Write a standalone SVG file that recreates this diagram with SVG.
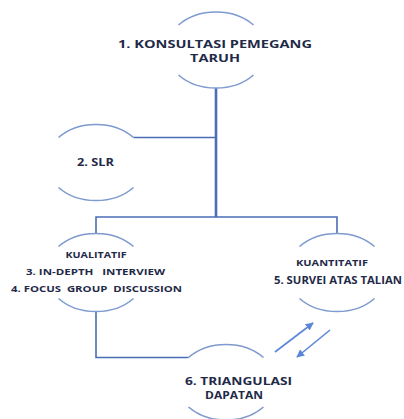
<svg xmlns="http://www.w3.org/2000/svg" width="404" height="419" viewBox="0 0 404 419">
  <style>
    .arc { fill: none; stroke: #7E9ACF; stroke-width: 1.6; }
    .conn { fill: none; stroke: #4A6DB5; stroke-width: 1.6; }
    .trunk { fill: none; stroke: #4A6DB5; stroke-width: 2.6; }
    .arr { fill: none; stroke: #5B86D6; stroke-width: 1.6; }
    text { font-family: "Open Sans", "Liberation Sans", Arial, sans-serif; font-weight: bold; fill: #1F2A48; text-anchor: middle; white-space: pre; }
    .t11 { font-size: 11px; }
    .t10 { font-size: 9.5px; }
  </style>
  <defs>
    <marker id="ah" viewBox="0 0 10 10" refX="9" refY="5" markerWidth="5" markerHeight="5" orient="auto" markerUnits="strokeWidth">
      <path d="M0 0 L10 5 L0 10 Z" fill="#5B86D6"/>
    </marker>
  </defs>

  <g id="connectors">
    <path class="trunk" d="M216 88 V217"/>
    <path class="conn" d="M133.5 137.5 H216"/>
    <path class="conn" d="M96 233 V217 H337 V233"/>
    <path class="conn" d="M96 312 V357.5 H188.5"/>
    <path class="arr" d="M275 352 L313 323" marker-end="url(#ah)"/>
    <path class="arr" d="M330 330 L297 357" marker-end="url(#ah)"/>
  </g>

  <g id="node1">
    <path class="arc" d="M178.5 25 A50 38.5 0 0 1 253.5 25"/>
    <path class="arc" d="M178.5 75 A50 38.5 0 0 0 253.5 75"/>
    <text class="t11" x="215" y="48" textLength="194" lengthAdjust="spacingAndGlyphs">1. KONSULTASI PEMEGANG</text>
    <text class="t11" x="215" y="62" textLength="50" lengthAdjust="spacingAndGlyphs">TARUH</text>
  </g>

  <g id="node2">
    <path class="arc" d="M58.5 137.5 A50 38.5 0 0 1 133.5 137.5"/>
    <path class="arc" d="M58.5 187.5 A50 38.5 0 0 0 133.5 187.5"/>
    <text class="t11" x="95.5" y="166" textLength="37" lengthAdjust="spacingAndGlyphs">2. SLR</text>
  </g>

  <g id="node3">
    <path class="arc" d="M58.5 246.5 A50 38.5 0 0 1 133.5 246.5"/>
    <path class="arc" d="M58.5 298.5 A50 38.5 0 0 0 133.5 298.5"/>
    <text class="t10" x="96" y="258" textLength="61" lengthAdjust="spacingAndGlyphs">KUALITATIF</text>
    <text class="t10" x="95.5" y="275" textLength="139" lengthAdjust="spacingAndGlyphs">3. IN-DEPTH   INTERVIEW</text>
    <text class="t10" x="96.5" y="291.5" textLength="171" lengthAdjust="spacingAndGlyphs">4. FOCUS  GROUP  DISCUSSION</text>
  </g>

  <g id="node5">
    <path class="arc" d="M299.5 246.5 A50 38.5 0 0 1 374.5 246.5"/>
    <path class="arc" d="M299.5 298.5 A50 38.5 0 0 0 374.5 298.5"/>
    <text class="t10" x="332" y="266" textLength="72" lengthAdjust="spacingAndGlyphs">KUANTITATIF</text>
    <text class="t11" x="338" y="284" textLength="128" lengthAdjust="spacingAndGlyphs">5. SURVEI ATAS TALIAN</text>
  </g>

  <g id="node6">
    <path class="arc" d="M188.5 357.5 A50 38.5 0 0 1 263.5 357.5"/>
    <path class="arc" d="M188.5 407 A50 38.5 0 0 0 263.5 407"/>
    <text class="t11" x="238.5" y="385" textLength="107" lengthAdjust="spacingAndGlyphs">6. TRIANGULASI</text>
    <text class="t11" x="234" y="399" textLength="58" lengthAdjust="spacingAndGlyphs">DAPATAN</text>
  </g>
</svg>
